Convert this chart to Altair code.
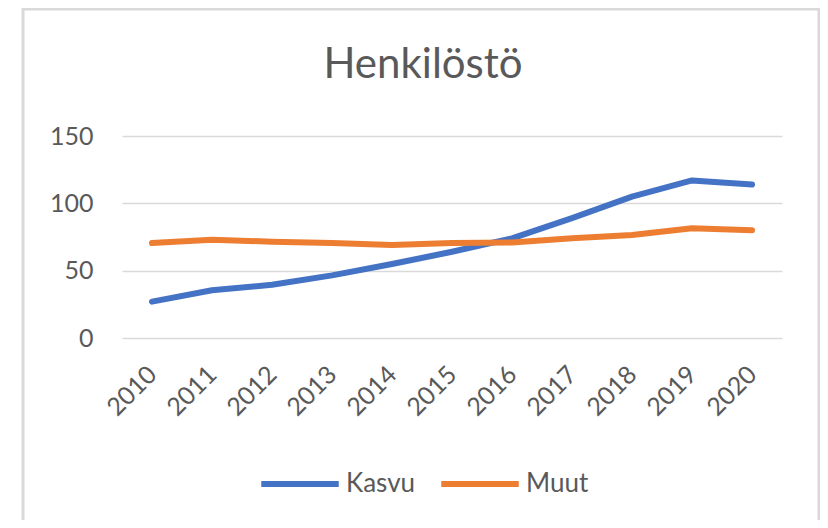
import altair as alt
import pandas as pd

years = ["2010", "2011", "2012", "2013", "2014", "2015", "2016", "2017", "2018", "2019", "2020"]
kasvu = [27, 35.5, 39.5, 46.5, 55, 64, 74, 89, 105, 117, 114]
muut = [70.5, 73, 71.5, 70.5, 69, 70.5, 71, 74, 76.5, 81.5, 80]
series_names = ["Kasvu", "Muut"]
series_colors = ["#4472C4", "#ED7D31"]
y_ticks = [0, 50, 100, 150]

rows = []
for name, vals in zip(series_names, [kasvu, muut]):
    for yr, v in zip(years, vals):
        rows.append({"Vuosi": yr, "Arvo": v, "Sarja": name})
df = pd.DataFrame(rows)

FONT = "Lato"
GREY = "#595959"

lines = alt.Chart(df).mark_line(strokeWidth=6, strokeCap="round", strokeJoin="round").encode(
    x=alt.X("Vuosi:O", sort=years, scale=alt.Scale(type="point", padding=0.5),
            axis=alt.Axis(title=None, labelAngle=-45, labelAlign="right", labelBaseline="middle",
                          labelFontSize=25, labelColor=GREY, labelFont=FONT, labelPadding=32,
                          domain=False, ticks=False, grid=False)),
    y=alt.Y("Arvo:Q", scale=alt.Scale(domain=[0, 150], nice=False),
            axis=alt.Axis(title=None, values=y_ticks, labelFontSize=25, labelColor=GREY,
                          labelFont=FONT, labelPadding=29, domain=False, ticks=False,
                          grid=True, gridColor="#d9d9d9", gridWidth=1.5)),
    color=alt.Color("Sarja:N", sort=series_names,
                    scale=alt.Scale(domain=series_names, range=series_colors),
                    legend=alt.Legend(title=None, orient="none", direction="horizontal",
                                      legendX=136, legendY=306, symbolType="stroke",
                                      symbolSize=6000, symbolStrokeWidth=6,
                                      labelFontSize=26, labelColor=GREY, labelFont=FONT,
                                      labelOffset=4, columnPadding=13, padding=0)),
)

border = alt.Chart(pd.DataFrame({"a": [0]})).mark_rect(
    fill=None, stroke="#d9d9d9", strokeWidth=3
).encode(
    x=alt.value(-99), x2=alt.value(697), y=alt.value(-127), y2=alt.value(420)
)

chart = alt.layer(border, lines).properties(
    width=660,
    height=202,
    autosize=alt.AutoSizeParams(type="none"),
    padding={"left": 114, "top": 128, "right": 38, "bottom": 182},
    title=alt.TitleParams("Henkilöstö", fontSize=42, font=FONT, color=GREY, fontWeight="normal",
                          anchor="middle", baseline="alphabetic", offset=-112.5, dx=-29),
).configure(background="white", view=alt.ViewConfig(stroke="transparent", strokeWidth=0))

chart.save("out.html", embed_options={"renderer": "svg", "actions": False})
